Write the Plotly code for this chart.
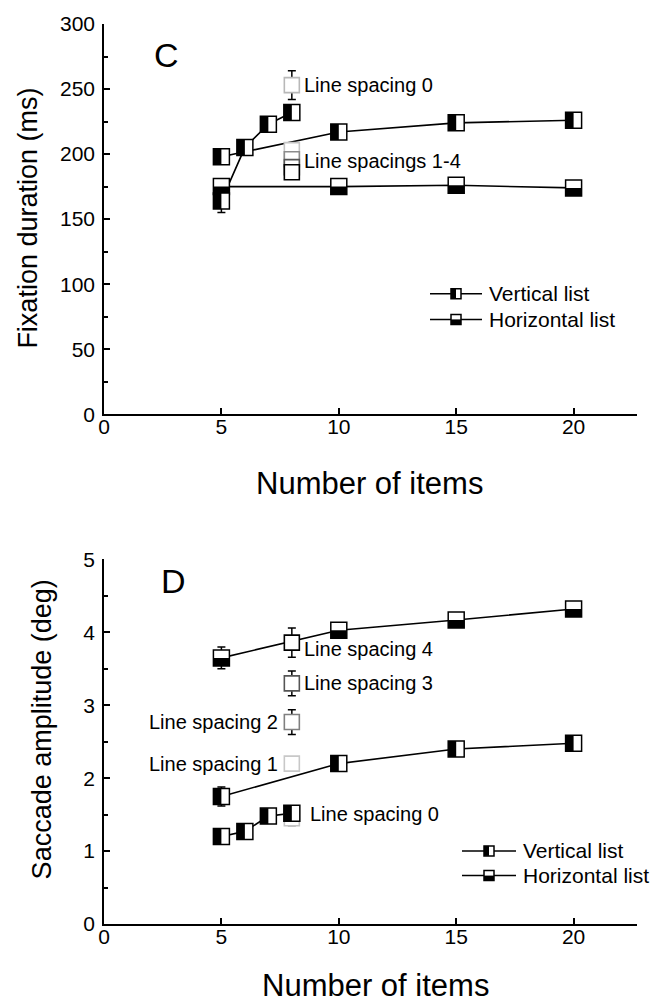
import plotly.graph_objects as go

# ---------------- data ----------------
# Panel C: fixation duration (ms)
c_vert_x = [5, 10, 15, 20]
c_vert_y = [198, 217, 224, 226]
c_vert_err = [5, 5, 4, 4]

c_vitems_x = [5, 6, 7, 8]
c_vitems_y = [164, 205, 223, 232]
c_vitems_err = [9, 5, 4, 6]

c_horz_x = [5, 10, 15, 20]
c_horz_y = [175, 175, 176, 174]
c_horz_err = [4, 5, 4, 4]

c_space_x = [8, 8, 8, 8, 8]
c_space_y = [253, 203, 196, 190, 186]
c_space_err = [11, 5, 5, 5, 5]
c_space_col = ["#b8b8b8", "#c4c4c4", "#8c8c8c", "#555555", "#000000"]

# Panel D: saccade amplitude (deg)
d_vert_x = [5, 10, 15, 20]
d_vert_y = [1.75, 2.20, 2.40, 2.48]
d_vert_err = [0.13, 0.08, 0.06, 0.06]

d_vitems_x = [5, 6, 7, 8]
d_vitems_y = [1.20, 1.27, 1.48, 1.52]
d_vitems_err = [0.10, 0.08, 0.06, 0.06]

d_horz_x = [5, 10, 15, 20]
d_horz_y = [3.65, 4.03, 4.17, 4.32]
d_horz_err = [0.15, 0.05, 0.05, 0.05]

d_space_x = [8, 8, 8, 8, 8]
d_space_y = [1.45, 2.20, 2.77, 3.30, 3.86]
d_space_err = [0.10, 0.03, 0.17, 0.17, 0.20]
d_space_col = ["#c4c4c4", "#c8c8c8", "#808080", "#555555", "#000000"]

x_ticks = [0, 5, 10, 15, 20]

# ---------------- geometry helpers ----------------
W, H = 655, 1004
ML, MR, MT, MB = 104, 18, 13, 80
PW, PH = W - ML - MR, H - MT - MB


def px_x(px):
    return (px - ML) / PW


def px_y(py):
    return (H - MB - py) / PH


FONT = "Liberation Sans, Arial, sans-serif"
HALF = 8  # half marker size in px

fig = go.Figure()
shapes = []
annotations = []


def half_marker(xs, ys, xref, yref, kind, half=HALF):
    """Square marker with one half black: kind 'v' = left half, 'h' = bottom half."""
    for x, y in zip(xs, ys):
        common = dict(xref=xref, yref=yref, xsizemode="pixel", ysizemode="pixel",
                      xanchor=x, yanchor=y, layer="above")
        shapes.append(dict(type="rect", x0=-half, x1=half, y0=-half, y1=half,
                           fillcolor="white", line=dict(color="black", width=1.5), **common))
        if kind == "v":
            shapes.append(dict(type="rect", x0=-half, x1=0, y0=-half, y1=half,
                               fillcolor="black", line=dict(width=0), **common))
        else:
            shapes.append(dict(type="rect", x0=-half, x1=half, y0=-half, y1=0,
                               fillcolor="black", line=dict(width=0), **common))


def line_series(xs, ys, errs, xa, ya):
    fig.add_trace(go.Scatter(
        x=xs, y=ys, mode="lines", xaxis=xa, yaxis=ya,
        line=dict(color="black", width=1.6),
        error_y=dict(type="data", array=errs, color="black", thickness=1.5, width=4),
        showlegend=False, hoverinfo="skip"))


def spacing_series(xs, ys, errs, cols, xa, ya):
    for x, y, e, c in zip(xs, ys, errs, cols):
        fig.add_trace(go.Scatter(
            x=[x], y=[y], mode="markers", xaxis=xa, yaxis=ya,
            marker=dict(symbol="square", size=15, color="white",
                        line=dict(color=c, width=1.6)),
            error_y=dict(type="data", array=[e], color="black", thickness=1.5, width=4),
            showlegend=False, hoverinfo="skip"))


# ---------------- panel C ----------------
line_series(c_horz_x, c_horz_y, c_horz_err, "x", "y")
line_series(c_vert_x, c_vert_y, c_vert_err, "x", "y")
line_series(c_vitems_x, c_vitems_y, c_vitems_err, "x", "y")
spacing_series(c_space_x, c_space_y, c_space_err, c_space_col, "x", "y")
half_marker(c_horz_x, c_horz_y, "x", "y", "h")
half_marker(c_vert_x, c_vert_y, "x", "y", "v")
half_marker(c_vitems_x, c_vitems_y, "x", "y", "v")

# ---------------- panel D ----------------
line_series(d_horz_x, d_horz_y, d_horz_err, "x2", "y2")
line_series(d_vert_x, d_vert_y, d_vert_err, "x2", "y2")
line_series(d_vitems_x, d_vitems_y, d_vitems_err, "x2", "y2")
spacing_series(d_space_x, d_space_y, d_space_err, d_space_col, "x2", "y2")
half_marker(d_horz_x, d_horz_y, "x2", "y2", "h")
half_marker(d_vert_x, d_vert_y, "x2", "y2", "v")
half_marker(d_vitems_x, d_vitems_y, "x2", "y2", "v")

# ---------------- annotations on points ----------------
ann_font = dict(family=FONT, size=20, color="black")


def note(text, x, y, xa, ya, side="right", xshift=None, yshift=0):
    if xshift is None:
        xshift = 10 if side == "right" else -12
    annotations.append(dict(
        text=text, x=x, y=y, xref=xa, yref=ya, showarrow=False,
        xanchor="left" if side == "right" else "right", yanchor="middle",
        xshift=xshift, yshift=yshift, font=ann_font))


def paper_text(text, px, py, size, angle=0, xanchor="center"):
    annotations.append(dict(text=text, x=px_x(px), y=px_y(py), xref="paper", yref="paper",
                            xanchor=xanchor, yanchor="middle", textangle=angle,
                            showarrow=False, font=dict(family=FONT, size=size, color="black")))


note("Line spacing 0", c_space_x[0], c_space_y[0], "x", "y")
note("Line spacings 1-4", c_space_x[1], c_space_y[2], "x", "y", yshift=-2)
note("Line spacing 0", d_space_x[0], d_space_y[0], "x2", "y2", xshift=16, yshift=4)
note("Line spacing 1", d_space_x[1], d_space_y[1], "x2", "y2", side="left")
note("Line spacing 2", d_space_x[2], d_space_y[2], "x2", "y2", side="left")
note("Line spacing 3", d_space_x[3], d_space_y[3], "x2", "y2")
note("Line spacing 4", d_space_x[4], d_space_y[4], "x2", "y2", yshift=-6)

# panel letters
paper_text("C", 166, 44, 34)
paper_text("D", 173, 577, 34)

# axis titles
paper_text("Fixation duration (ms)", 28, 210, 27, angle=-90)
paper_text("Saccade amplitude (deg)", 42, 727, 27, angle=-90)
paper_text("Number of items", 369, 478, 31)
paper_text("Number of items", 375, 986, 31)


# ---------------- legends ----------------
def legend_block(x_line0, x_line1, x_text, y_rows):
    for (label, kind), yy in zip([("Vertical list", "v"), ("Horizontal list", "h")], y_rows):
        shapes.append(dict(type="line", xref="paper", yref="paper",
                           x0=px_x(x_line0), x1=px_x(x_line1), y0=px_y(yy), y1=px_y(yy),
                           line=dict(color="black", width=1.5), layer="above"))
        half_marker([px_x((x_line0 + x_line1) / 2)], [px_y(yy)], "paper", "paper", kind, half=5)
        paper_text(label, x_text, yy, 21, xanchor="left")


legend_block(430, 482, 487, [286, 312])
legend_block(462, 516, 521, [850, 875])

# ---------------- axes ----------------
top_dom = [px_y(408), 1.0]
bot_dom = [0.0, px_y(555)]
tick_font = dict(family=FONT, size=21, color="black")
ax_common = dict(showline=True, linecolor="black", linewidth=1.5, ticks="inside",
                 ticklen=6, tickwidth=1.5, tickcolor="black", showgrid=False,
                 zeroline=False, tickfont=tick_font, mirror=False)
x_common = dict(ticklabelstandoff=-7, **ax_common)
y_common = dict(ticklabelstandoff=3, **ax_common)

fig.update_layout(
    width=W, height=H,
    margin=dict(l=ML, r=MR, t=MT, b=MB),
    paper_bgcolor="white", plot_bgcolor="white",
    shapes=shapes, annotations=annotations, showlegend=False,
    xaxis=dict(domain=[0, 1], anchor="y", range=[0, 22.7], tickvals=x_ticks, **x_common),
    yaxis=dict(domain=top_dom, anchor="x", range=[0, 300], dtick=50,
               minor=dict(dtick=25, ticks="inside", ticklen=4, tickwidth=1.5, tickcolor="black"),
               **y_common),
    xaxis2=dict(domain=[0, 1], anchor="y2", range=[0, 22.7], tickvals=x_ticks, **x_common),
    yaxis2=dict(domain=bot_dom, anchor="x2", range=[0, 5], dtick=1,
                minor=dict(dtick=0.5, ticks="inside", ticklen=4, tickwidth=1.5, tickcolor="black"),
                **y_common),
)

fig.write_html("out.html")
